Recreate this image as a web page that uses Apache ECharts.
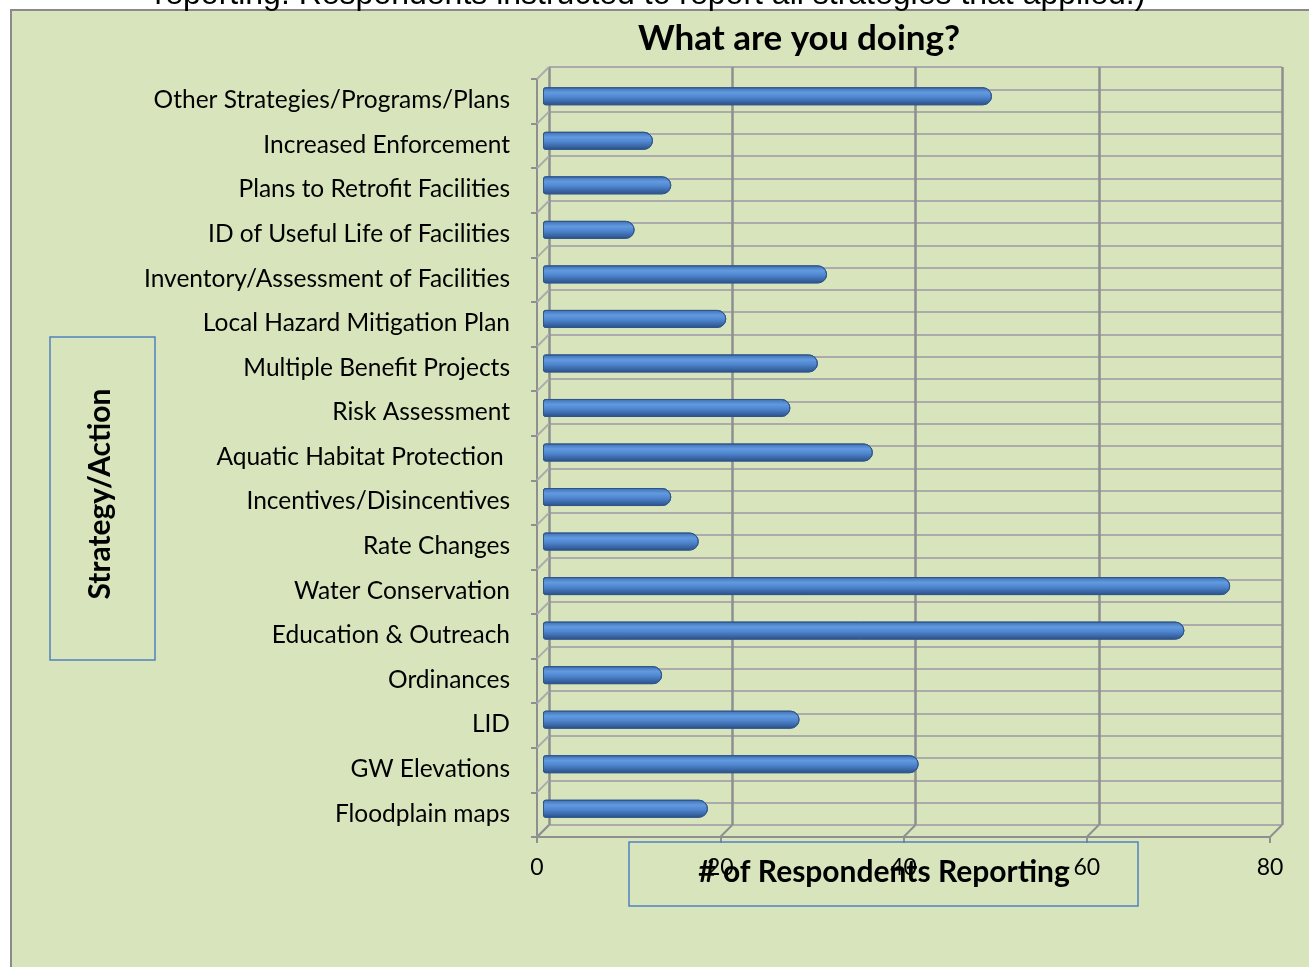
<!DOCTYPE html>
<html><head><meta charset="utf-8">
<script src="https://cdn.jsdelivr.net/npm/echarts@6/dist/echarts.min.js"></script>
<style>html,body{margin:0;padding:0;background:#fff}#c{width:1309px;height:967px}</style>
</head><body><div id="c"></div>
<script>
const categories = [
  "Other Strategies/Programs/Plans",
  "Increased Enforcement",
  "Plans to Retrofit Facilities",
  "ID of Useful Life of Facilities",
  "Inventory/Assessment of Facilities",
  "Local Hazard Mitigation Plan",
  "Multiple Benefit Projects",
  "Risk Assessment",
  "Aquatic Habitat Protection ",
  "Incentives/Disincentives",
  "Rate Changes",
  "Water Conservation",
  "Education & Outreach",
  "Ordinances",
  "LID",
  "GW Elevations",
  "Floodplain maps"
];
const respondents = [49, 12, 14, 10, 31, 20, 30, 27, 36, 14, 17, 75, 70, 13, 28, 41, 18];
const xTicks = [0, 20, 40, 60, 80];
const titleText = "What are you doing?";
const topNote = "reporting. Respondents instructed to report all strategies that applied.)";
const yTitle = "Strategy/Action";
const xTitle = "# of Respondents Reporting";

const GREEN = '#d8e4bc';
const WALL = '#8f8f8f';
const HLINE = '#ababab';
const FONT = 'Lato, "Noto Sans", sans-serif';

const chart = echarts.init(document.getElementById('c'), null, {renderer: 'canvas'});
const xMax = xTicks[xTicks.length - 1];
const xStep = xTicks[1] - xTicks[0];
const nCat = categories.length;

const option = {
  backgroundColor: '#ffffff',
  animation: false,
  title: [{
    text: titleText, left: 794, top: 16, textAlign: 'center',
    textStyle: {fontFamily: FONT, fontWeight: 'bold', fontSize: 35, color: '#000'}
  }],
  grid: [
    {left: 549, right: 27, top: 67, bottom: 142},  // back wall
    {left: 537, right: 39, top: 79, bottom: 130},  // front edge
    {left: 543, right: 33, top: 74, bottom: 136},  // bars (mid depth)
    {left: 543, right: 33, top: 78, bottom: 131}   // category labels
  ],
  xAxis: [
    {gridIndex: 0, type: 'value', min: 0, max: xMax, interval: xStep,
     axisLine: {show: false}, axisTick: {show: false}, axisLabel: {show: false},
     splitLine: {show: true, lineStyle: {color: WALL, width: 2.5}}},
    {gridIndex: 1, type: 'value', min: 0, max: xMax, interval: xStep,
     axisLine: {show: true, lineStyle: {color: WALL, width: 2}},
     axisTick: {show: true, length: 6, lineStyle: {color: WALL, width: 2}},
     axisLabel: {show: true, margin: 19, fontFamily: FONT, fontSize: 23, color: '#000'},
     splitLine: {show: false}},
    {gridIndex: 2, type: 'value', min: 0, max: xMax, interval: xStep, show: false},
    {gridIndex: 3, type: 'value', min: 0, max: xMax, interval: xStep, show: false}
  ],
  yAxis: [
    {gridIndex: 0, type: 'value', min: 0, max: nCat * 2, interval: 1,
     axisLine: {show: false}, axisTick: {show: false}, axisLabel: {show: false},
     splitLine: {show: true, lineStyle: {color: HLINE, width: 2}}},
    {gridIndex: 1, type: 'value', min: 0, max: nCat, interval: 1,
     axisLine: {show: true, lineStyle: {color: WALL, width: 2}},
     axisTick: {show: true, length: 6, lineStyle: {color: WALL, width: 2}},
     axisLabel: {show: false}, splitLine: {show: false}},
    {gridIndex: 2, type: 'category', data: categories, inverse: true, show: false},
    {gridIndex: 3, type: 'category', data: categories, inverse: true,
     axisLine: {show: false}, axisTick: {show: false}, splitLine: {show: false},
     axisLabel: {show: true, margin: 33, fontFamily: FONT, fontSize: 24.5, color: '#000'}}
  ],
  series: [{
    type: 'bar', xAxisIndex: 2, yAxisIndex: 2, data: respondents,
    barWidth: 18,
    itemStyle: {
      borderRadius: [2, 9, 9, 2],
      borderColor: '#2f568c', borderWidth: 1,
      color: new echarts.graphic.LinearGradient(0, 0, 0, 1, [
        {offset: 0, color: '#3f6fb0'},
        {offset: 0.3, color: '#629ae0'},
        {offset: 0.55, color: '#4f86cf'},
        {offset: 1, color: '#2a4f86'}
      ])
    }
  }]
};
chart.setOption(option);

function px(axisIdx, v) {
  return chart.convertToPixel({xAxisIndex: axisIdx, yAxisIndex: axisIdx}, v);
}
const g = [];
g.push({type: 'rect', z: -10, shape: {x: 11, y: 10, width: 1320, height: 980},
        style: {fill: GREEN, stroke: '#8a8a8a', lineWidth: 2}});
for (let k = 0; k <= nCat; k++) {
  const b = px(0, [0, 2 * k]);
  const f = px(1, [0, k]);
  g.push({type: 'line', z: 1, shape: {x1: f[0], y1: f[1], x2: b[0], y2: b[1]},
          style: {stroke: HLINE, lineWidth: 2}});
}
xTicks.forEach(t => {
  const b = px(0, [t, 0]);
  const f = px(1, [t, 0]);
  g.push({type: 'line', z: 1, shape: {x1: f[0], y1: f[1], x2: b[0], y2: b[1]},
          style: {stroke: WALL, lineWidth: 2}});
});
g.push({type: 'text', z: 5, x: 650, y: -5,
        style: {text: topNote, fill: '#000', font: '32px "Liberation Sans", Arial, sans-serif',
                textAlign: 'center', textVerticalAlign: 'middle'}});
g.push({type: 'rect', z: 5, shape: {x: 50, y: 337, width: 105, height: 323},
        style: {fill: 'none', stroke: '#4f81bd', lineWidth: 1.5}});
g.push({type: 'text', z: 6, x: 100, y: 494, rotation: Math.PI / 2,
        style: {text: yTitle, fill: '#000', font: 'bold 30px ' + FONT,
                textAlign: 'center', textVerticalAlign: 'middle'}});
g.push({type: 'rect', z: 5, shape: {x: 629, y: 842, width: 509, height: 64},
        style: {fill: 'none', stroke: '#4f81bd', lineWidth: 1.5}});
g.push({type: 'text', z: 6, x: 884, y: 872,
        style: {text: xTitle, fill: '#000', font: 'bold 30px ' + FONT,
                textAlign: 'center', textVerticalAlign: 'middle'}});
chart.setOption({graphic: g});
</script></body></html>
